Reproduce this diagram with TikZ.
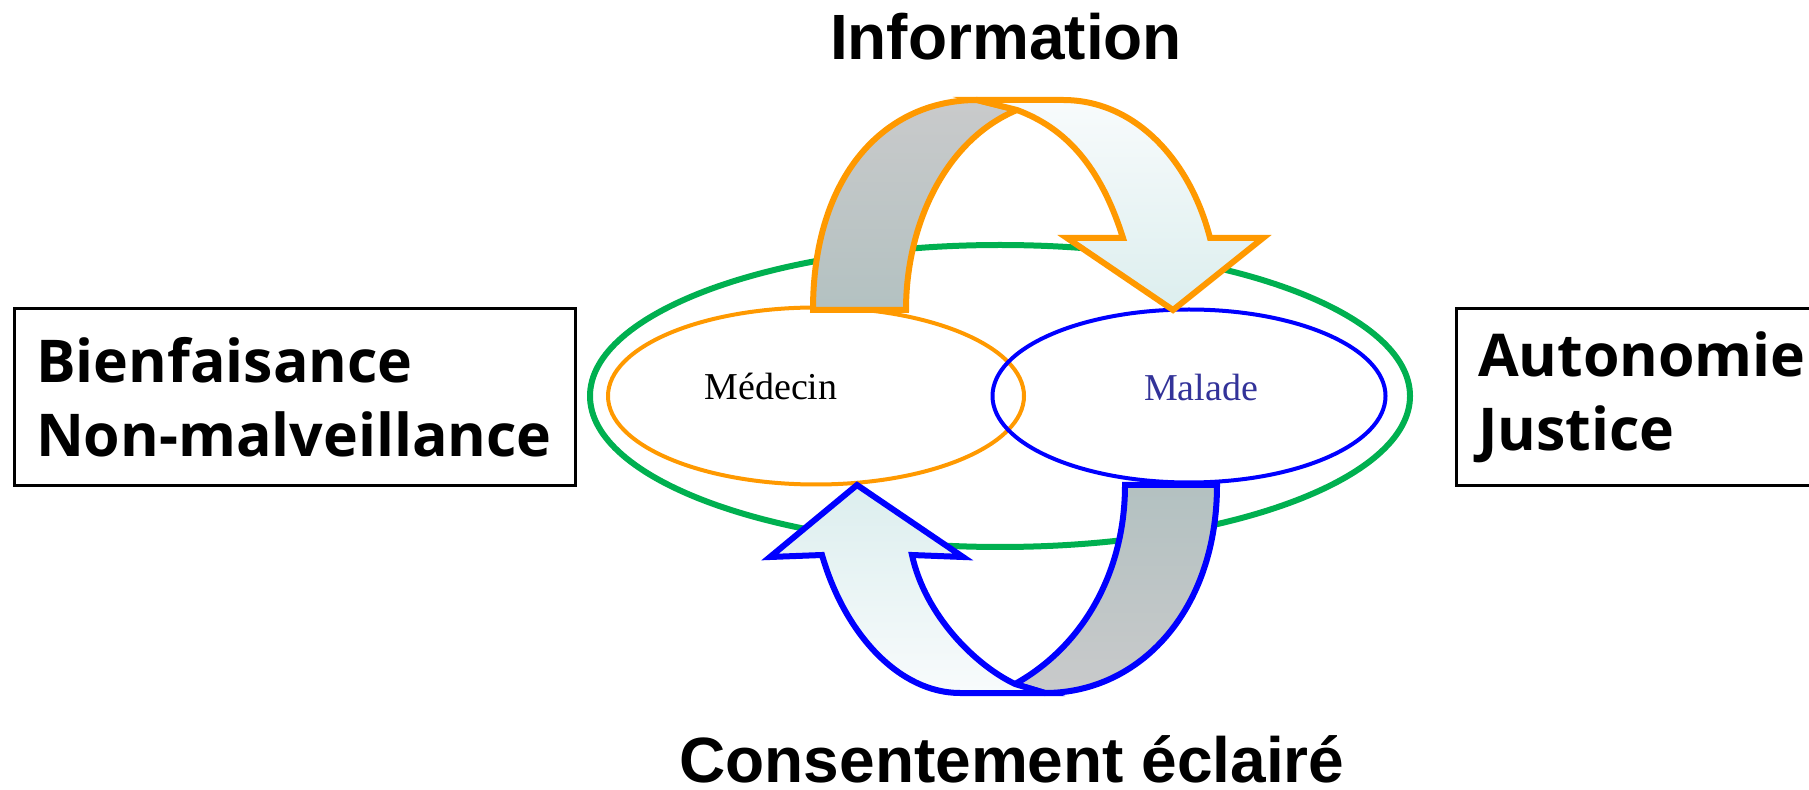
\documentclass[tikz,border=0pt]{standalone}
\usepackage{fontspec}
\setmainfont{Liberation Serif}
\newfontfamily\titlefont{Liberation Sans}
\newfontfamily\boxfont{Open Sans}
\usetikzlibrary{shapes.geometric}
\definecolor{ringgreen}{HTML}{00B050}
\definecolor{docorange}{HTML}{FF9900}
\definecolor{patblue}{HTML}{0000FF}
\definecolor{maladeblue}{HTML}{333399}
\definecolor{backgray1}{HTML}{C9CACB}
\definecolor{backgray2}{HTML}{B3C1C1}
\definecolor{front1}{HTML}{F8FBFC}
\definecolor{front2}{HTML}{DCEEEE}

\begin{document}
\begin{tikzpicture}[x=0.5pt,y=-0.5pt]
    \tikzstyle{oval}=[ellipse,draw,inner sep=0pt]
    \tikzstyle{principle}=[rectangle,draw=black,line width=1.5pt,minimum width=280.5pt,minimum height=88.5pt,text width=258.5pt,inner xsep=11pt,align=left,font=\boxfont\bfseries\fontsize{29.5}{37}\selectfont]
    \tikzstyle{heading}=[font=\titlefont\bfseries\fontsize{32}{38}\selectfont,anchor=base,inner sep=0pt]
    \tikzstyle{role}=[font=\fontsize{19}{22}\selectfont,anchor=base]
    \tikzstyle{ribbon}=[line width=3pt,line join=miter]
    \useasboundingbox (0,0) rectangle (1809,790);

    % Draw the principle boxes
    \node[principle] (lbox) at (294.5,397.5) {Bienfaisance\\Non-malveillance};
    \node[principle] (rbox) at (1736.5,397.5) {Autonomie\\Justice};

    % Draw the relation ring and the two partners
    \node[oval,draw=ringgreen,line width=3pt,minimum width=410pt,minimum height=151pt] (ring) at (1000,396) {};
    \node[oval,draw=docorange,line width=2pt,minimum width=208pt,minimum height=88.5pt] (doc) at (816,396) {};
    \node[oval,draw=patblue,line width=2pt,minimum width=196.5pt,minimum height=86.5pt] (pat) at (1189,396) {};
    \node[role] (doclabel) at (771,400) {Médecin};
    \node[role,text=maladeblue] (patlabel) at (1201,401) {Malade};

    % Top arrow, from the doctor to the patient
    \draw[ribbon,draw=docorange,top color=backgray1,bottom color=backgray2] (813,310) .. controls (813,175) and (885,100) .. (977,100) -- (1017,110) .. controls (945,140) and (906,225) .. (906,310) -- cycle;
    \draw[ribbon,draw=docorange,top color=front1,bottom color=front2] (977,100) -- (1063,100) .. controls (1135,100) and (1190,160) .. (1210,238) -- (1263,238) -- (1173,310) -- (1067,238) -- (1123,238) .. controls (1100,165) and (1065,128) .. (1017,110) -- cycle;

    % Bottom arrow, from the patient back to the doctor
    \draw[ribbon,draw=patblue,top color=backgray2,bottom color=backgray1] (1125,485) -- (1217,485) .. controls (1217,610) and (1140,693) .. (1045,693) -- (1015,684) .. controls (1085,645) and (1125,570) .. (1125,485) -- cycle;
    \draw[ribbon,draw=patblue,top color=front2,bottom color=front1] (1045,693) -- (960,693) .. controls (900,693) and (845,635) .. (822,555) -- (770,557) -- (857,485) -- (963,557) -- (912,555) .. controls (925,615) and (975,665) .. (1015,684) -- cycle;

    % Annotate the exchanges
    \node[heading] (info) at (1006,60) {Information};
    \node[heading] (consent) at (1012,782) {Consentement éclairé};
\end{tikzpicture}
\end{document}
